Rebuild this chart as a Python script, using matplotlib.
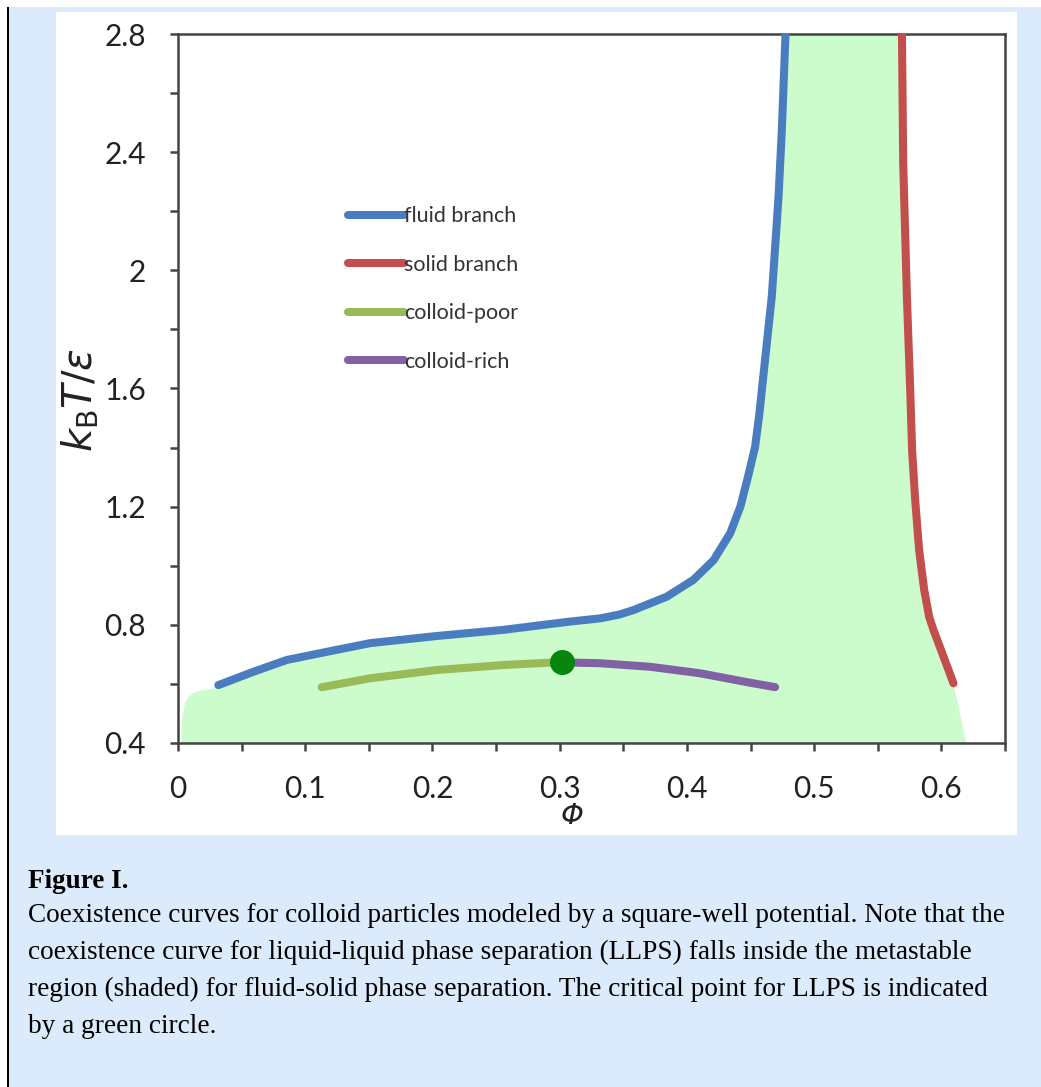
import matplotlib
matplotlib.use("Agg")
import matplotlib.pyplot as plt
from matplotlib.lines import Line2D
from matplotlib.patches import Rectangle

# ---- data ----
fluid_phi = [0.0317, 0.0592, 0.0855, 0.1116, 0.151, 0.203, 0.2557, 0.308, 0.332, 0.347, 0.358,
             0.384, 0.405, 0.421, 0.434, 0.442, 0.448, 0.4536, 0.457, 0.4597, 0.4667, 0.472, 0.4746, 0.4775]
fluid_T   = [0.596, 0.641, 0.681, 0.704, 0.738, 0.762, 0.783, 0.811, 0.822, 0.835, 0.850,
             0.895, 0.952, 1.019, 1.110, 1.200, 1.301, 1.403, 1.516, 1.628, 1.911, 2.249, 2.475, 2.800]

solid_phi = [0.569, 0.570, 0.5729, 0.5755, 0.577, 0.5794, 0.5825, 0.5865, 0.5904, 0.5938, 0.6017, 0.6095]
solid_T   = [2.800, 2.362, 1.911, 1.595, 1.390, 1.223, 1.053, 0.918, 0.827, 0.7825, 0.692, 0.602]

poor_phi = [0.113, 0.151, 0.2034, 0.2557, 0.2925, 0.3016]
poor_T   = [0.589, 0.619, 0.647, 0.664, 0.672, 0.673]

rich_phi = [0.3016, 0.3318, 0.371, 0.4104, 0.4497, 0.4693]
rich_T   = [0.673, 0.670, 0.658, 0.636, 0.604, 0.589]

crit_phi, crit_T = 0.3016, 0.673

# shaded metastable region: lower-left edge and lower-right corner
shade_left_phi = [0.0027, 0.003, 0.0041, 0.0055, 0.0083, 0.0134, 0.0196, 0.0307]
shade_left_T   = [0.400, 0.478, 0.502, 0.535, 0.557, 0.573, 0.579, 0.586]
shade_right_phi = [0.6195]
shade_right_T   = [0.400]

xticks = [0, 0.05, 0.1, 0.15, 0.2, 0.25, 0.3, 0.35, 0.4, 0.45, 0.5, 0.55, 0.6, 0.65]
xticklabels = ["0", "", "0.1", "", "0.2", "", "0.3", "", "0.4", "", "0.5", "", "0.6", ""]
yticks = [0.4, 0.6, 0.8, 1.0, 1.2, 1.4, 1.6, 1.8, 2.0, 2.2, 2.4, 2.6, 2.8]
yticklabels = ["0.4", "", "0.8", "", "1.2", "", "1.6", "", "2", "", "2.4", "", "2.8"]

labels = ["fluid branch", "solid branch", "colloid-poor", "colloid-rich"]

c_blue = "#4a7dbf"
c_red = "#c24f4c"
c_green = "#9ab957"
c_purple = "#8062a4"
c_shade = "#ccfccc"
c_crit = "#08850c"
c_bg = "#dcebfc"

W, H = 1041, 1087
fig = plt.figure(figsize=(W / 100, H / 100), dpi=100)
fig.patch.set_facecolor("white")

# page background, frame line and white panel
fig.add_artist(Rectangle((9 / W, 0), 1 - 9 / W, 1 - 7 / H, transform=fig.transFigure,
                         facecolor=c_bg, edgecolor="none", zorder=0))
fig.add_artist(Rectangle((7 / W, 0), 2 / W, 1 - 7 / H, transform=fig.transFigure,
                         facecolor="black", edgecolor="none", zorder=0))
fig.add_artist(Rectangle((56 / W, 1 - 835 / H), (1017 - 56) / W, (835 - 12) / H,
                         transform=fig.transFigure, facecolor="white", edgecolor="none", zorder=0))

ax = fig.add_axes([178 / W, 1 - 743 / H, (1005 - 178) / W, (743 - 34) / H])
ax.set_facecolor("none")

# shaded region polygon
poly_phi = shade_left_phi + fluid_phi + solid_phi + shade_right_phi
poly_T = shade_left_T + fluid_T + solid_T + shade_right_T
ax.fill(poly_phi, poly_T, color=c_shade, lw=0, zorder=1)

lw = 5.8
kw = dict(lw=lw, solid_capstyle="round", solid_joinstyle="round", zorder=3)
ax.plot(fluid_phi, fluid_T, color=c_blue, **kw)
ax.plot(solid_phi, solid_T, color=c_red, **kw)
ax.plot(poor_phi, poor_T, color=c_green, **kw)
ax.plot(rich_phi, rich_T, color=c_purple, **kw)
ax.plot([crit_phi], [crit_T], "o", color=c_crit, ms=17, zorder=4)

ax.set_xlim(0, 0.65)
ax.set_ylim(0.4, 2.8)
ax.set_xticks(xticks)
ax.set_xticklabels(xticklabels)
ax.set_yticks(yticks)
ax.set_yticklabels(yticklabels)

for lab in ax.get_xticklabels() + ax.get_yticklabels():
    lab.set_fontfamily(["Lato", "DejaVu Sans"])
    lab.set_fontsize(21.5)
    lab.set_color("#222222")
ax.tick_params(axis="both", direction="out", length=6, width=1.8, color="#444444")
ax.tick_params(axis="x", pad=17)
ax.tick_params(axis="y", pad=17)
for s in ax.spines.values():
    s.set_linewidth(1.8)
    s.set_color("#444444")

ax.set_xlabel("Φ", fontsize=21, fontstyle="italic", family=["DejaVu Sans"], color="#222222")
ax.xaxis.set_label_coords((572 - 178) / 827, -(802 - 743) / 709)
ax.set_ylabel(r"$k_{\mathrm{B}}T/\varepsilon$", fontsize=29, color="#222222")
ax.yaxis.set_label_coords(-(178 - 101) / 827, (743 - 400) / 709)

handles = [Line2D([], [], color=c, lw=lw, solid_capstyle="round") for c in (c_blue, c_red, c_green, c_purple)]
leg = ax.legend(handles, labels, loc="upper left", bbox_to_anchor=(0.195, 0.769), frameon=False,
                handlelength=2.6, handletextpad=0.0, labelspacing=1.32, borderaxespad=0.0,
                prop={"family": ["Lato", "DejaVu Sans"], "size": 15.5})
for t in leg.get_texts():
    t.set_color("#333333")

# caption
cap_font = ["Liberation Serif", "DejaVu Serif"]
fig.text(28 / W, 1 - 882 / H, "Figure I.", fontsize=19.5, fontweight="bold", family=cap_font, va="center")
cap_lines = [
    "Coexistence curves for colloid particles modeled by a square-well potential. Note that the",
    "coexistence curve for liquid-liquid phase separation (LLPS) falls inside the metastable",
    "region (shaded) for fluid-solid phase separation. The critical point for LLPS is indicated",
    "by a green circle.",
]
for i, line in enumerate(cap_lines):
    fig.text(28 / W, 1 - (915 + i * 37.3) / H, line, fontsize=19.6, family=cap_font, va="center")

fig.savefig("out.png", dpi=100, facecolor=fig.get_facecolor())
